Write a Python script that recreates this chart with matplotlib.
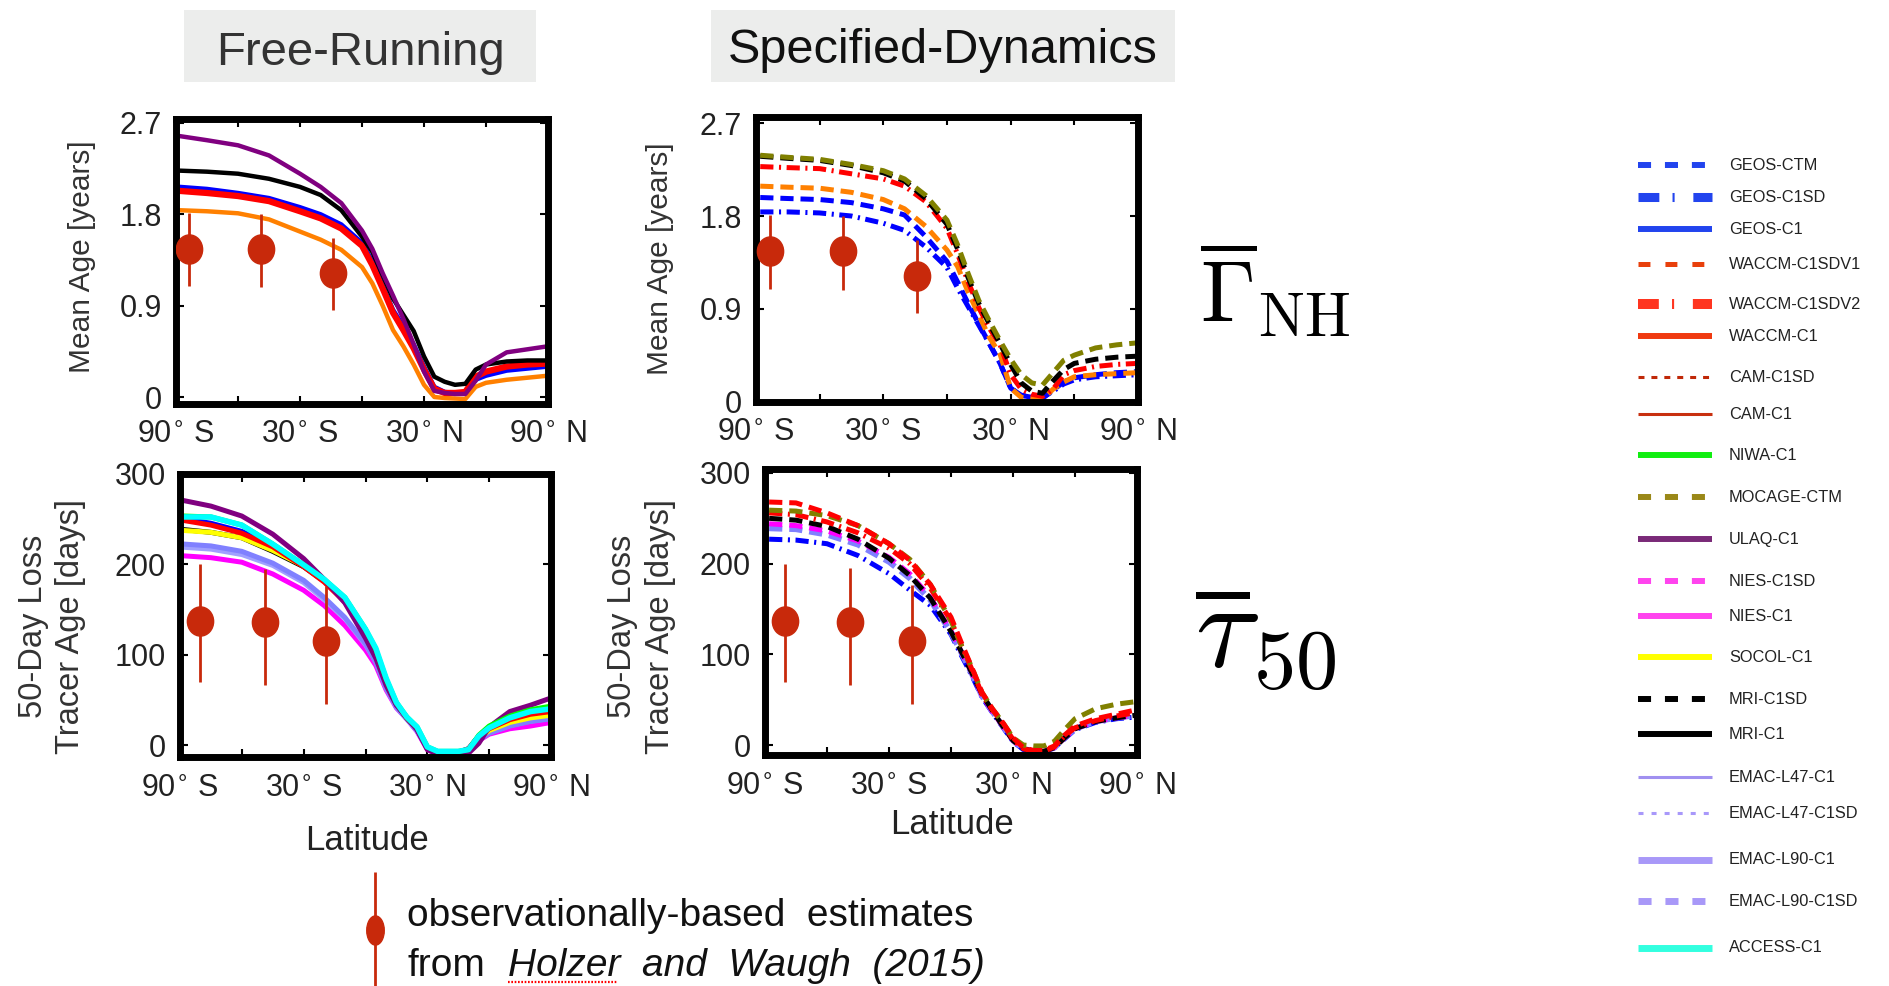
import matplotlib
matplotlib.use('Agg')
import matplotlib.pyplot as plt
from matplotlib.markers import MarkerStyle
from matplotlib.transforms import Affine2D
from matplotlib.patches import Rectangle
from matplotlib.lines import Line2D

plt.rcParams['lines.scale_dashes'] = False
plt.rcParams['font.family'] = ['Liberation Sans', 'DejaVu Sans']
SANS = ['Liberation Sans', 'DejaVu Sans']

# ---------------- data ----------------
LAT = [-88, -75, -60, -45, -30, -20, -10, 0, 5, 10, 15, 20, 25, 30, 35, 40, 45, 50, 55, 60, 70, 80, 90]

# Mean age [years], free-running
AGE_FR_ULAQ = [2.57, 2.53, 2.48, 2.38, 2.20, 2.07, 1.91, 1.64, 1.46, 1.22, 1.00, 0.77, 0.52, 0.25, 0.06, 0.04, 0.03, 0.03, 0.16, 0.32, 0.44, 0.47, 0.50]
AGE_FR_MRI = [2.23, 2.22, 2.20, 2.15, 2.07, 1.99, 1.84, 1.58, 1.43, 1.20, 0.97, 0.81, 0.65, 0.40, 0.20, 0.15, 0.12, 0.13, 0.27, 0.32, 0.35, 0.36, 0.36]
AGE_FR_GEOS = [2.07, 2.05, 2.01, 1.96, 1.87, 1.80, 1.70, 1.52, 1.34, 1.10, 0.86, 0.70, 0.52, 0.30, 0.10, 0.05, 0.04, 0.05, 0.17, 0.21, 0.26, 0.28, 0.30]
AGE_FR_WACCM = [2.03, 2.01, 1.98, 1.93, 1.83, 1.76, 1.66, 1.49, 1.30, 1.07, 0.83, 0.66, 0.48, 0.27, 0.08, 0.04, 0.04, 0.05, 0.20, 0.25, 0.30, 0.32, 0.33]
AGE_FR_CAM = [1.84, 1.83, 1.81, 1.75, 1.63, 1.55, 1.45, 1.28, 1.12, 0.90, 0.66, 0.50, 0.32, 0.12, 0.00, -0.01, -0.015, -0.02, 0.10, 0.14, 0.17, 0.19, 0.21]

# Mean age [years], specified-dynamics
AGE_SD_MOCAGE = [2.39, 2.37, 2.35, 2.30, 2.24, 2.16, 2.00, 1.76, 1.52, 1.24, 0.98, 0.78, 0.59, 0.41, 0.26, 0.18, 0.16, 0.28, 0.40, 0.45, 0.52, 0.55, 0.57]
AGE_SD_MRI = [2.38, 2.36, 2.34, 2.29, 2.22, 2.14, 1.97, 1.72, 1.48, 1.20, 0.95, 0.75, 0.56, 0.36, 0.18, 0.10, 0.08, 0.20, 0.31, 0.37, 0.41, 0.43, 0.44]
AGE_SD_WACCM2 = [2.28, 2.27, 2.26, 2.21, 2.16, 2.09, 1.94, 1.68, 1.43, 1.16, 0.91, 0.71, 0.55, 0.26, 0.12, 0.07, 0.05, 0.12, 0.26, 0.30, 0.34, 0.36, 0.37]
AGE_SD_WACCM1 = [2.09, 2.08, 2.07, 2.03, 1.96, 1.87, 1.70, 1.47, 1.31, 1.06, 0.84, 0.62, 0.46, 0.13, 0.04, 0.03, 0.02, 0.12, 0.19, 0.24, 0.26, 0.27, 0.28]
AGE_SD_GEOSCTM = [1.98, 1.97, 1.96, 1.93, 1.87, 1.81, 1.60, 1.36, 1.16, 0.95, 0.75, 0.56, 0.37, 0.13, 0.06, 0.04, 0.03, 0.11, 0.19, 0.23, 0.26, 0.28, 0.29]
AGE_SD_GEOSC1SD = [1.84, 1.84, 1.83, 1.80, 1.73, 1.66, 1.50, 1.30, 1.10, 0.92, 0.74, 0.56, 0.37, 0.13, 0.06, 0.05, 0.04, 0.10, 0.17, 0.21, 0.24, 0.25, 0.26]

# 50-day loss tracer age [days], free-running
TAU_FR_ULAQ = [270, 264, 253, 233, 206, 183, 157, 118, 96, 66, 44, 31, 17, -5, -10, -11, -11, -9, 2, 20, 37, 44, 52]
TAU_FR_NIES = [209, 207, 202, 189, 171, 154, 132, 105, 88, 61, 41, 29, 15, -5, -10, -11, -11, -7, 5, 12, 18, 21, 25]
TAU_FR_EMAC47 = [218, 216, 210, 198, 179, 160, 139, 110, 91, 62, 41, 28, 15, -4, -9, -10, -10, -7, 6, 13, 21, 26, 29]
TAU_FR_EMAC90 = [222, 220, 214, 201, 182, 163, 141, 112, 92, 63, 42, 29, 16, -4, -9, -10, -10, -7, 6, 13, 21, 26, 29]
TAU_FR_MRI = [238, 235, 229, 214, 197, 181, 159, 124, 103, 70, 45, 30, 18, -3, -8, -8, -8, -5, 9, 17, 26, 31, 34]
TAU_FR_SOCOL = [237, 235, 229, 215, 198, 182, 160, 125, 104, 71, 46, 30, 18, -3, -8, -8, -8, -5, 8, 16, 25, 30, 33]
TAU_FR_GEOS = [250, 245, 236, 220, 198, 181, 159, 124, 103, 70, 45, 30, 18, -3, -8, -8, -8, -4, 10, 19, 29, 35, 38]
TAU_FR_WACCM = [248, 243, 234, 219, 197, 180, 158, 124, 103, 70, 45, 30, 18, -3, -8, -8, -8, -4, 10, 18, 28, 34, 37]
TAU_FR_NIWA = [253, 252, 243, 222, 199, 183, 163, 128, 106, 73, 47, 31, 20, -2, -7, -7, -7, -5, 11, 21, 32, 39, 43]
TAU_FR_ACCESS = [252, 252, 243, 222, 199, 183, 163, 128, 107, 74, 47, 31, 20, -2, -7, -7, -7, -5, 10, 19, 30, 37, 40]

# 50-day loss tracer age [days], specified-dynamics
TAU_SD_GEOS = [227, 226, 222, 209, 189, 171, 154, 122, 99, 77, 53, 36, 20, 4, -5, -7, -7, -3, 7, 17, 25, 29, 31]
TAU_SD_EMAC90 = [239, 238, 232, 221, 202, 184, 160, 124, 102, 79, 54, 37, 21, 5, -4, -7, -7, -3, 8, 18, 26, 30, 33]
TAU_SD_NIES = [244, 242, 236, 225, 207, 189, 163, 126, 103, 80, 55, 37, 21, 5, -4, -7, -7, -3, 8, 18, 26, 30, 33]
TAU_SD_MRI = [250, 248, 241, 227, 206, 187, 162, 125, 103, 80, 56, 38, 21, 5, -4, -7, -7, -3, 8, 18, 26, 30, 33]
TAU_SD_WACCM2 = [256, 254, 246, 234, 217, 200, 173, 137, 110, 84, 56, 39, 24, 6, -4, -7, -7, -2, 10, 19, 27, 32, 36]
TAU_SD_MOCAGE = [259, 258, 253, 242, 222, 205, 177, 137, 110, 86, 58, 40, 25, 8, 0, -1, -1, 4, 17, 29, 40, 45, 48]
TAU_SD_WACCM1 = [268, 267, 256, 242, 222, 204, 177, 141, 113, 86, 58, 40, 25, 8, -3, -6, -6, -1, 11, 21, 29, 34, 39]

# observationally-based estimates (Holzer and Waugh 2015)
OBS_LAT_AGE = [-83.5, -49, -14]
OBS_AGE = [1.46, 1.46, 1.22]
OBS_AGE_LO = [1.09, 1.08, 0.86]
OBS_AGE_HI = [1.81, 1.80, 1.57]
OBS_LAT_TAU = [-80.5, -49, -19]
OBS_TAU = [137, 136, 115]
OBS_TAU_LO = [70, 66, 45]
OBS_TAU_HI = [200, 195, 176]

XTICKS = [-90, -60, -30, 0, 30, 60, 90]
XTICKLABELS = ['90$^{\\circ}$ S', '', '30$^{\\circ}$ S', '', '30$^{\\circ}$ N', '', '90$^{\\circ}$ N']
AGE_TICKS = [0, 0.9, 1.8, 2.7]
AGE_TICKLABELS = ['0', '0.9', '1.8', '2.7']
TAU_TICKS = [0, 100, 200, 300]
TAU_TICKLABELS = ['0', '100', '200', '300']

LEGEND_NAMES = ['GEOS-CTM', 'GEOS-C1SD', 'GEOS-C1', 'WACCM-C1SDV1', 'WACCM-C1SDV2', 'WACCM-C1',
                'CAM-C1SD', 'CAM-C1', 'NIWA-C1', 'MOCAGE-CTM', 'ULAQ-C1', 'NIES-C1SD', 'NIES-C1',
                'SOCOL-C1', 'MRI-C1SD', 'MRI-C1', 'EMAC-L47-C1', 'EMAC-L47-C1SD', 'EMAC-L90-C1',
                'EMAC-L90-C1SD', 'ACCESS-C1']
LEGEND_COLORS = ['#2244EE', '#2244EE', '#2244EE', '#E8400C', '#FF3520', '#F03A10',
                 '#C02808', '#C83010', '#10EE10', '#9A8818', '#7A2A78', '#FF44EE', '#FF44EE',
                 '#FFFF00', '#000000', '#000000', '#A090F0', '#A898FA', '#A898F8',
                 '#A898F8', '#33FFE0']
LEGEND_LW = [4.3, 6.5, 4.3, 3.6, 7.2, 4.3, 2.2, 2.2, 4.3, 4.3, 4.3, 4.3, 4.3,
             4.3, 4.3, 4.3, 2.2, 2.2, 5.0, 5.0, 5.0]
LEGEND_DASH = [(9.4, 10), (15, 9.5, 1.5, 13.5), None, (8.6, 10.8), (15, 9.5, 1.5, 13.5), None,
               (4.3, 5), None, None, (9.4, 10), None, (9.4, 10), None,
               None, (9.4, 10), None, None, (3.6, 5.8), None, (9.4, 10), None]
LEGEND_Y = [165, 197, 229, 264, 304, 336, 377, 414, 455, 497, 539, 581, 616,
            657, 699, 734, 777, 813, 860, 901, 948]

# ---------------- figure ----------------
W, H = 1889, 986
fig = plt.figure(figsize=(W / 100, H / 100), dpi=100)


def add_ax(x0, y0, x1, y1):
    return fig.add_axes([x0 / W, 1 - y1 / H, (x1 - x0) / W, (y1 - y0) / H])


def style(ax, ylim, yt, ytl):
    ax.set_xlim(-90, 90)
    ax.set_ylim(*ylim)
    ax.set_xticks(XTICKS)
    ax.set_xticklabels(XTICKLABELS)
    ax.set_yticks(yt)
    ax.set_yticklabels(ytl)
    for s in ax.spines.values():
        s.set_linewidth(5)
    ax.tick_params(direction='in', length=6, width=1.5, top=True, right=True, labelsize=22,
                   labelcolor='#222222')
    ax.tick_params(axis='x', pad=12)
    ax.tick_params(axis='y', pad=10)


OBSC = '#C8290B'
obs_marker = MarkerStyle('o', transform=Affine2D().scale(0.9, 1.0))


def obs(ax, lat, v, lo, hi):
    for la, a, b in zip(lat, lo, hi):
        ax.plot([la, la], [a, b], color=OBSC, lw=2.0, zorder=10, solid_capstyle='butt')
    ax.plot(lat, v, ls='none', marker=obs_marker, ms=21, color=OBSC, zorder=11)


DASH = (9.5, 5)
DDOT = (9.5, 4, 1.5, 4)

# --- top-left: free-running mean age
ax1 = add_ax(176, 118.5, 548, 403.5)
ax1.plot(LAT, AGE_FR_CAM, color='#FF8000', lw=3.2)
ax1.plot(LAT, AGE_FR_GEOS, color='#0000FF', lw=3.2)
ax1.plot(LAT, AGE_FR_WACCM, color='#FF0000', lw=4.5)
ax1.plot(LAT, AGE_FR_MRI, color='#000000', lw=3.2)
ax1.plot(LAT, AGE_FR_ULAQ, color='#800080', lw=3.2)
obs(ax1, OBS_LAT_AGE, OBS_AGE, OBS_AGE_LO, OBS_AGE_HI)
style(ax1, (-0.064, 2.744), AGE_TICKS, AGE_TICKLABELS)

# --- top-right: specified-dynamics mean age
ax2 = add_ax(756, 116.5, 1138, 401.5)
ax2.plot(LAT, AGE_SD_GEOSC1SD, color='#0000FF', lw=3.6, dashes=DDOT)
ax2.plot(LAT, AGE_SD_GEOSCTM, color='#0000FF', lw=3.6, dashes=DASH)
ax2.plot(LAT, AGE_SD_WACCM1, color='#FF8000', lw=3.6, dashes=DASH)
ax2.plot(LAT, AGE_SD_WACCM2, color='#FF0000', lw=3.6, dashes=DDOT)
ax2.plot(LAT, AGE_SD_MRI, color='#000000', lw=3.6, dashes=DASH)
ax2.plot(LAT, AGE_SD_MOCAGE, color='#808000', lw=3.6, dashes=DASH)
obs(ax2, OBS_LAT_AGE, OBS_AGE, OBS_AGE_LO, OBS_AGE_HI)
style(ax2, (0.0, 2.766), AGE_TICKS, AGE_TICKLABELS)

# --- bottom-left: free-running tau50
ax3 = add_ax(180, 473.5, 551, 757)
ax3.plot(LAT, TAU_FR_NIES, color='#FF00FF', lw=3.6)
ax3.plot(LAT, TAU_FR_EMAC47, color='#A0A0FF', lw=3.0)
ax3.plot(LAT, TAU_FR_EMAC90, color='#8080FF', lw=3.6)
ax3.plot(LAT, TAU_FR_MRI, color='#000000', lw=3.6)
ax3.plot(LAT, TAU_FR_SOCOL, color='#FFFF00', lw=3.6)
ax3.plot(LAT, TAU_FR_GEOS, color='#0000FF', lw=3.6)
ax3.plot(LAT, TAU_FR_WACCM, color='#FF0000', lw=3.6)
ax3.plot(LAT, TAU_FR_ULAQ, color='#800080', lw=3.6)
ax3.plot(LAT, TAU_FR_NIWA, color='#00FF00', lw=3.6)
ax3.plot(LAT, TAU_FR_ACCESS, color='#00FFFF', lw=4.0)
obs(ax3, OBS_LAT_TAU, OBS_TAU, OBS_TAU_LO, OBS_TAU_HI)
style(ax3, (-13.2, 299.5), TAU_TICKS, TAU_TICKLABELS)

# --- bottom-right: specified-dynamics tau50
ax4 = add_ax(765, 469, 1137, 755)
ax4.plot(LAT, TAU_SD_GEOS, color='#0000FF', lw=3.6, dashes=DDOT)
ax4.plot(LAT, TAU_SD_EMAC90, color='#8080FF', lw=4.2, dashes=DASH)
ax4.plot(LAT, TAU_SD_NIES, color='#FF00FF', lw=3.6, dashes=DASH)
ax4.plot(LAT, TAU_SD_MRI, color='#000000', lw=3.6, dashes=DASH)
ax4.plot(LAT, TAU_SD_WACCM2, color='#FF0000', lw=3.6, dashes=DDOT)
ax4.plot(LAT, TAU_SD_MOCAGE, color='#808000', lw=3.6, dashes=DASH)
ax4.plot(LAT, TAU_SD_WACCM1, color='#FF0000', lw=3.6, dashes=DASH)
obs(ax4, OBS_LAT_TAU, OBS_TAU, OBS_TAU_LO, OBS_TAU_HI)
style(ax4, (-11, 304.4), TAU_TICKS, TAU_TICKLABELS)

# ---------------- text ----------------
def ft(x, y, s, **kw):
    return fig.text(x / W, 1 - y / H, s, **kw)


fig.patches.append(Rectangle((184 / W, 1 - 82 / H), (536 - 184) / W, 72 / H,
                             transform=fig.transFigure, facecolor='#ECEDEC', edgecolor='none', zorder=0))
fig.patches.append(Rectangle((711 / W, 1 - 82 / H), (1175 - 711) / W, 72 / H,
                             transform=fig.transFigure, facecolor='#ECEDEC', edgecolor='none', zorder=0))
ft(360, 65, 'Free-Running', ha='center', va='baseline', fontsize=34, color='#333333')
ft(943, 63, 'Specified-Dynamics', ha='center', va='baseline', fontsize=35, color='#111111')

ft(82, 257, 'Mean Age [years]', rotation=90, ha='center', va='center', fontsize=21.5, color='#333333')
ft(660, 259, 'Mean Age [years]', rotation=90, ha='center', va='center', fontsize=21.5, color='#333333')
ft(34, 626, '50-Day Loss', rotation=90, ha='center', va='center', fontsize=23.5, color='#333333')
ft(70, 626, 'Tracer Age [days]', rotation=90, ha='center', va='center', fontsize=23.5, color='#333333')
ft(622, 626, '50-Day Loss', rotation=90, ha='center', va='center', fontsize=23.5, color='#333333')
ft(660, 626, 'Tracer Age [days]', rotation=90, ha='center', va='center', fontsize=23.5, color='#333333')
ft(367, 840, 'Latitude', ha='center', va='center', fontsize=25, color='#222222')
ft(952, 825, 'Latitude', ha='center', va='center', fontsize=25, color='#222222')

ft(1200, 322, r'$\overline{\Gamma}_{\rm NH}$', ha='left', va='baseline', fontsize=63, math_fontfamily='cm')
ft(1195, 668, r'$\overline{\tau}_{50}$', ha='left', va='baseline', fontsize=87, math_fontfamily='cm')

# observation key
kax = add_ax(355, 860, 395, 986)
kax.set_xlim(0, 1)
kax.set_ylim(986, 860)
kax.axis('off')
kax.plot([0.5, 0.5], [872, 990], color=OBSC, lw=2.0, solid_capstyle='butt', clip_on=False)
kax.plot([0.5], [930], ls='none', marker=MarkerStyle('o', transform=Affine2D().scale(0.6, 1.0)),
         ms=21, color=OBSC)
ft(407, 916, 'observationally-based  estimates', ha='left', va='center', fontsize=28, color='#111111')
ft(407, 966, 'from', ha='left', va='center', fontsize=28, color='#111111')
ft(508, 966, 'Holzer  and  Waugh  (2015)', ha='left', va='center', fontsize=28, style='italic', color='#111111')
fig.add_artist(Line2D([508 / W, 617 / W], [1 - 982 / H, 1 - 982 / H], transform=fig.transFigure,
                      color='#FF0000', lw=1.6, dashes=(1.2, 1.2)))

# legend
lax = add_ax(1620, 130, 1889, 980)
lax.set_xlim(1620, 1889)
lax.set_ylim(980, 130)
lax.axis('off')
for name, c, lw, d, y in zip(LEGEND_NAMES, LEGEND_COLORS, LEGEND_LW, LEGEND_DASH, LEGEND_Y):
    kw = dict(color=c, lw=lw, solid_capstyle='butt', dash_capstyle='butt')
    if d is not None:
        kw['dashes'] = d
    lax.plot([1638, 1712], [y, y], **kw)
    lax.text(1729, y, name, ha='left', va='center', fontsize=11.8, color='#222222')

fig.savefig('out.png', dpi=100)
